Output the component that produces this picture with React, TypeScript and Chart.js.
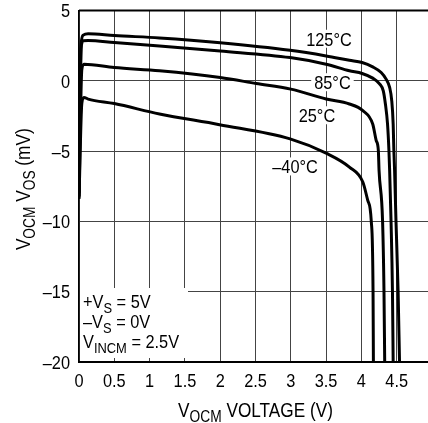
import React, { useEffect, useRef } from "react";
import { Chart, registerables } from "chart.js";

Chart.register(...registerables);

const FONT = '"Liberation Sans", Arial, sans-serif';
const SX = 0.86; // horizontal condensing of text

// Axis ranges and ticks
const X_MIN = 0;
const X_MAX = 5;
const X_STEP = 0.5;
const Y_MIN = -20;
const Y_MAX = 5;
const Y_STEP = 5;

// 125°C
const T125_X = [0.0, 0.03, 0.06, 0.13, 0.5, 1.14, 2.0, 2.99, 3.5, 3.83, 4.01, 4.16, 4.28, 4.35, 4.4, 4.43, 4.45, 4.46, 4.47, 4.49, 4.52, 4.54];
const T125_Y = [-8.0, 2.6, 3.25, 3.35, 3.22, 3.05, 2.71, 2.17, 1.77, 1.46, 1.3, 0.99, 0.59, 0.12, -0.47, -1.42, -3.07, -4.96, -6.37, -10, -15, -20];

// 85°C
const T85_X = [0.0, 0.03, 0.06, 0.13, 0.5, 1.14, 2.0, 2.99, 3.5, 3.83, 4.01, 4.16, 4.26, 4.31, 4.34, 4.37, 4.39, 4.4, 4.42, 4.44, 4.45];
const T85_Y = [-8.2, 2.3, 2.85, 2.86, 2.72, 2.48, 2.12, 1.65, 1.18, 0.71, 0.52, 0.19, -0.23, -0.71, -1.65, -3.07, -4.96, -6.37, -10, -15, -20];

// 25°C
const T25_X = [0.0, 0.04, 0.07, 0.5, 1.14, 2.0, 2.51, 3.0, 3.5, 3.83, 4.02, 4.16, 4.21, 4.24, 4.25, 4.3, 4.32, 4.33];
const T25_Y = [-8.3, 0.8, 1.18, 0.94, 0.71, 0.23, -0.19, -0.59, -1.3, -1.65, -2.12, -3.07, -4.25, -4.96, -6.37, -10, -15, -20];

// -40°C
const TM40_X = [0.0, 0.04, 0.07, 0.13, 0.5, 1.14, 1.99, 2.99, 3.5, 3.83, 4.02, 4.09, 4.14, 4.165, 4.17];
const TM40_Y = [-8.4, -1.6, -1.18, -1.3, -1.62, -2.36, -3.12, -4.13, -5.15, -6.14, -7.2, -8.5, -10, -15, -20];

const SERIES_NAMES = ["125°C", "85°C", "25°C", "–40°C"];
const SERIES_X = [T125_X, T85_X, T25_X, TM40_X];
const SERIES_Y = [T125_Y, T85_Y, T25_Y, TM40_Y];

// Curve label anchors (data units)
const LABEL_X = [3.54, 3.59, 3.37, 3.06];
const LABEL_Y = [2.99, -0.1, -2.45, -6.09];

type Part = { t: string; sub?: boolean };

const CONDITIONS: Part[][] = [
  [{ t: "+V" }, { t: "S", sub: true }, { t: " = 5V" }],
  [{ t: "–V" }, { t: "S", sub: true }, { t: " = 0V" }],
  [{ t: "V" }, { t: "INCM", sub: true }, { t: " = 2.5V" }],
];

const X_TITLE: Part[] = [{ t: "V" }, { t: "OCM", sub: true }, { t: " VOLTAGE (V)" }];
const Y_TITLE: Part[] = [
  { t: "V" },
  { t: "OCM", sub: true },
  { t: " V" },
  { t: "OS", sub: true },
  { t: " (mV)" },
];

const fmtX = (v: number) => String(v);
const fmtY = (v: number) => (v < 0 ? "–" + Math.abs(v) : String(v));

function textW(ctx: CanvasRenderingContext2D, t: string, size: number) {
  ctx.font = `${size}px ${FONT}`;
  return ctx.measureText(t).width * SX;
}

function drawText(
  ctx: CanvasRenderingContext2D,
  t: string,
  x: number,
  y: number,
  size: number,
  align: "left" | "center" | "right"
) {
  const w = textW(ctx, t, size);
  const left = align === "left" ? x : align === "center" ? x - w / 2 : x - w;
  ctx.save();
  ctx.translate(left, y);
  ctx.scale(SX, 1);
  ctx.font = `${size}px ${FONT}`;
  ctx.textAlign = "left";
  ctx.textBaseline = "alphabetic";
  ctx.fillText(t, 0, 0);
  ctx.restore();
}

function drawRich(
  ctx: CanvasRenderingContext2D,
  parts: Part[],
  x: number,
  y: number,
  align: "left" | "center",
  main: number,
  sub: number,
  subOff: number
) {
  const widths = parts.map((p) => textW(ctx, p.t, p.sub ? sub : main));
  const total = widths.reduce((a, b) => a + b, 0);
  let cx = align === "center" ? x - total / 2 : x;
  parts.forEach((p, i) => {
    drawText(ctx, p.t, cx, y + (p.sub ? subOff : 0), p.sub ? sub : main, "left");
    cx += widths[i];
  });
}

const annotations = {
  id: "annotations",
  beforeDatasetsDraw(chart: any) {
    const { ctx, chartArea: a, scales } = chart;
    const xs = scales.x;
    const ys = scales.y;
    ctx.save();
    // conditions box (white, masks grid)
    ctx.fillStyle = "#fff";
    ctx.fillRect(a.left + 1, a.bottom - 74, 108, 70);
    ctx.fillStyle = "#000";
    CONDITIONS.forEach((line, i) => {
      drawRich(ctx, line, a.left + 4, a.bottom - 54 + i * 20, "left", 19, 15, 5);
    });
    // curve labels
    SERIES_NAMES.forEach((n, i) => {
      const px = xs.getPixelForValue(LABEL_X[i]);
      const py = ys.getPixelForValue(LABEL_Y[i]);
      const w = textW(ctx, n, 19);
      ctx.fillStyle = "#fff";
      ctx.fillRect(px - w / 2 - 3, py - 9, w + 6, 18);
      ctx.fillStyle = "#000";
      drawText(ctx, n, px, py + 7, 19, "center");
    });
    ctx.restore();
  },
  afterDraw(chart: any) {
    const { ctx, chartArea: a, scales } = chart;
    const xs = scales.x;
    const ys = scales.y;
    ctx.save();
    // top border
    ctx.strokeStyle = "#000";
    ctx.lineWidth = 2;
    ctx.beginPath();
    ctx.moveTo(a.left, a.top);
    ctx.lineTo(a.right, a.top);
    ctx.stroke();
    ctx.fillStyle = "#000";
    // tick labels
    xs.ticks.forEach((t: any) => {
      drawText(ctx, fmtX(t.value), xs.getPixelForValue(t.value), a.bottom + 24.5, 19, "center");
    });
    ys.ticks.forEach((t: any) => {
      drawText(ctx, fmtY(t.value), a.left - 9, ys.getPixelForValue(t.value) + 6.7, 19, "right");
    });
    // x title
    drawRich(ctx, X_TITLE, (a.left + a.right) / 2, 417, "center", 20, 16, 5);
    // y title
    ctx.translate(30, (a.top + a.bottom) / 2 + 3);
    ctx.rotate(-Math.PI / 2);
    drawRich(ctx, Y_TITLE, 0, 0, "center", 20, 16, 5);
    ctx.restore();
  },
};

export default function App() {
  const ref = useRef<HTMLCanvasElement | null>(null);
  useEffect(() => {
    if (!ref.current) return;
    const datasets = SERIES_NAMES.map((name, i) => ({
      label: name,
      data: SERIES_X[i].map((x, j) => ({ x, y: SERIES_Y[i][j] })),
      borderColor: "#000",
      borderWidth: 3,
      pointRadius: 0,
      fill: false,
      cubicInterpolationMode: "monotone" as const,
    }));
    const chart = new Chart(ref.current, {
      type: "line",
      data: { datasets },
      plugins: [annotations],
      options: {
        responsive: false,
        devicePixelRatio: 1,
        animation: false,
        layout: { padding: { top: 10.5, right: 28, left: 0, bottom: 0 } },
        plugins: { legend: { display: false }, tooltip: { enabled: false } },
        scales: {
          x: {
            type: "linear",
            min: X_MIN,
            max: X_MAX,
            afterFit: (s: any) => {
              s.height = 61;
            },
            ticks: { stepSize: X_STEP, display: false },
            grid: { color: "#444", lineWidth: 1, drawTicks: false },
            border: { display: true, color: "#000", width: 2 },
          },
          y: {
            type: "linear",
            min: Y_MIN,
            max: Y_MAX,
            afterFit: (s: any) => {
              s.width = 79;
            },
            ticks: { stepSize: Y_STEP, display: false },
            grid: { color: "#444", lineWidth: 1, drawTicks: false },
            border: { display: true, color: "#000", width: 1.5 },
          },
        },
      },
    });
    return () => chart.destroy();
  }, []);
  return (
    <div
      style={{
        position: "fixed",
        left: 0,
        top: 0,
        width: 428,
        height: 423,
        overflow: "hidden",
        background: "#fff",
      }}
    >
      <canvas ref={ref} width={460} height={423} style={{ width: 460, height: 423, display: "block" }} />
    </div>
  );
}
